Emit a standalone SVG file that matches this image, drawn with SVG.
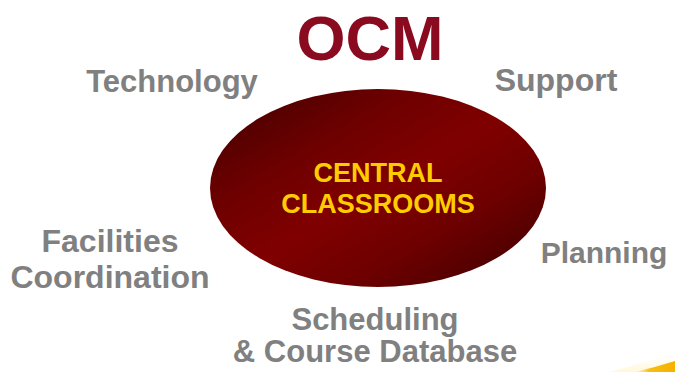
<svg xmlns="http://www.w3.org/2000/svg" width="675" height="372" viewBox="0 0 675 372">
  <defs>
    <linearGradient id="hubFill" x1="0" y1="0" x2="1" y2="1">
      <stop offset="0" stop-color="#3f0000"/>
      <stop offset="0.3" stop-color="#6e0000"/>
      <stop offset="0.5" stop-color="#800000"/>
      <stop offset="0.7" stop-color="#6e0000"/>
      <stop offset="1" stop-color="#3a0000"/>
    </linearGradient>
    <linearGradient id="cornerGold" x1="0" y1="0" x2="1" y2="0">
      <stop offset="0" stop-color="#ffd24a" stop-opacity="0"/>
      <stop offset="0.35" stop-color="#f7be14"/>
      <stop offset="1" stop-color="#f5b000"/>
    </linearGradient>
    <linearGradient id="cornerHaze" x1="0" y1="1" x2="0" y2="0">
      <stop offset="0" stop-color="#fff3c0" stop-opacity="0.6"/>
      <stop offset="1" stop-color="#fff8dc" stop-opacity="0"/>
    </linearGradient>
  </defs>
  <style>
    .title { font-family: "Liberation Sans", Arial, sans-serif; font-weight: bold; font-size: 63px; fill: #8a0a20; text-anchor: middle; }
    .label { font-family: "Liberation Sans", Arial, sans-serif; font-weight: bold; font-size: 31px; fill: #808080; text-anchor: middle; }
    .label.wide { font-size: 32px; }
    .hub-text { font-family: "Liberation Sans", Arial, sans-serif; font-weight: bold; font-size: 27px; fill: #ffcc00; text-anchor: middle; }
  </style>

  <rect width="675" height="372" fill="#ffffff"/>

  <!-- corner accent -->
  <path d="M610 372 Q645 362 675 353 L675 372 Z" fill="url(#cornerHaze)"/>
  <path d="M635 372 Q656 367 675 361 L675 372 Z" fill="url(#cornerGold)"/>

  <text class="title" x="370" y="60">OCM</text>

  <g id="hub">
    <ellipse cx="378" cy="188" rx="168" ry="99" fill="url(#hubFill)"/>
    <text class="hub-text" x="378" y="182">CENTRAL</text>
    <text class="hub-text" x="378" y="213">CLASSROOMS</text>
  </g>

  <g id="technology">
    <text class="label" x="172" y="92">Technology</text>
  </g>
  <g id="support">
    <text class="label wide" x="556" y="91">Support</text>
  </g>
  <g id="facilities">
    <text class="label wide" x="110" y="252">Facilities</text>
    <text class="label wide" x="110" y="288">Coordination</text>
  </g>
  <g id="planning">
    <text class="label" x="604" y="263" style="font-size:30px">Planning</text>
  </g>
  <g id="scheduling">
    <text class="label" x="375" y="330">Scheduling</text>
    <text class="label" x="375" y="362">&amp; Course Database</text>
  </g>

  <g id="connectors"/>
</svg>
